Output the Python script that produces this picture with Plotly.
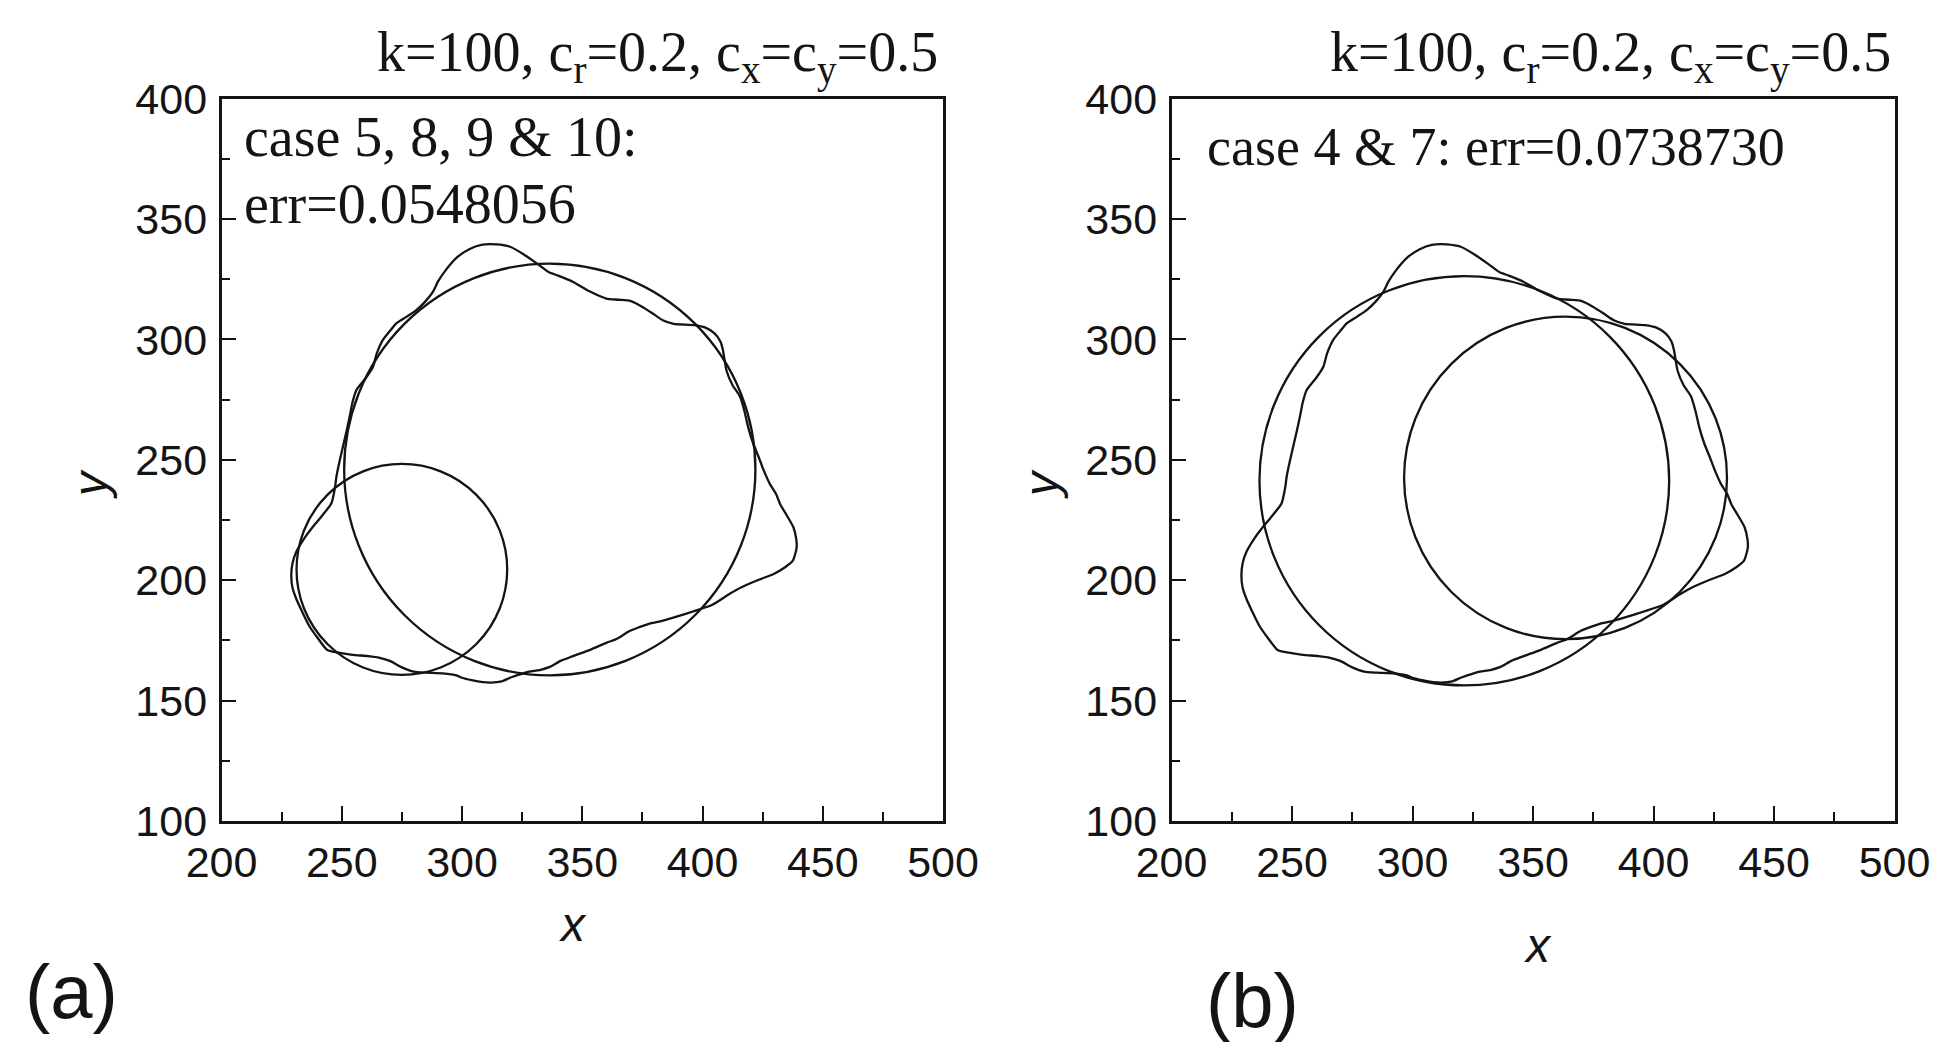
import plotly.graph_objects as go

# ---------------- data ----------------
# target (wavy) boundary, same in both panels
shape_x = [314.3, 320.0, 325.4, 331.5, 336.0, 340.0, 346.0, 353.0, 360.0, 365.0, 370.0, 375.0, 379.0,
           383.5, 388.0, 396.5, 401.0, 405.0, 407.5, 408.5, 410.0, 412.5, 415.5, 417.5, 419.0, 421.0,
           423.3, 425.5, 428.0, 430.5, 432.3, 435.0, 437.8, 439.0, 439.1, 437.5, 434.5, 429.4, 423.4,
           416.0, 411.5, 404.1, 396.0, 390.6, 382.0, 378.0, 373.7, 369.9, 364.0, 360.0, 353.0, 346.2,
           341.0, 336.5, 332.3, 328.0, 324.5, 320.0, 316.5, 312.0, 308.7, 304.0, 300.0, 297.7, 292.0,
           285.0, 280.0, 275.0, 270.0, 265.8, 261.0, 254.5, 248.0, 244.0, 240.0, 236.5, 233.5, 231.2,
           229.5, 229.0, 229.5, 231.2, 234.5, 238.1, 242.0, 245.7, 247.1, 247.8, 249.0, 250.5, 252.0,
           253.3, 254.5, 256.1, 260.0, 263.0, 264.5, 267.1, 270.0, 272.7, 277.0, 281.0, 284.5, 287.9,
           290.0, 293.0, 297.8, 303.0, 308.0, 314.3]
shape_y = [339.5, 338.5, 335.5, 331.3, 328.0, 326.5, 324.0, 320.0, 317.0, 316.5, 316.0, 313.5, 311.0,
           308.0, 306.5, 306.0, 305.0, 302.5, 299.0, 295.5, 287.0, 281.0, 276.5, 270.0, 263.5, 257.0,
           251.3, 245.5, 240.0, 236.0, 231.6, 227.0, 222.0, 217.0, 213.3, 208.0, 205.5, 202.5, 200.2,
           197.0, 194.5, 189.8, 187.0, 185.3, 182.8, 182.0, 180.5, 179.0, 175.5, 174.0, 171.0, 168.5,
           166.5, 164.0, 162.7, 162.0, 161.0, 159.5, 158.0, 157.5, 157.7, 158.5, 159.5, 160.5, 161.3,
           161.6, 162.0, 163.8, 166.5, 167.8, 168.5, 169.0, 170.0, 171.0, 176.0, 181.0, 187.0, 192.0,
           197.0, 202.0, 207.0, 212.0, 217.5, 222.3, 227.0, 232.0, 238.0, 243.1, 249.0, 255.5, 262.0,
           268.0, 274.0, 279.0, 284.0, 288.7, 294.0, 299.8, 303.5, 306.7, 309.5, 312.2, 315.5, 319.8,
           324.0, 328.5, 334.0, 337.5, 339.3, 339.5]

# fitted circles: centre x, centre y, radius
circ_a_cx = [336.5, 275.0]
circ_a_cy = [246.0, 204.5]
circ_a_r = [85.5, 43.8]
circ_b_cx = [321.5, 363.5]
circ_b_cy = [241.3, 242.5]
circ_b_r = [85.0, 67.0]

x_range = [200, 500]
y_range = [100, 400]
x_ticks = [200, 250, 300, 350, 400, 450, 500]
y_ticks = [100, 150, 200, 250, 300, 350, 400]

title_text = "k=100, c<sub>r</sub>=0.2, c<sub>x</sub>=c<sub>y</sub>=0.5"
case_a_lines = ["case 5, 8, 9 &amp; 10:", "err=0.0548056"]
case_b_text = "case 4 &amp; 7: err=0.0738730"

# ---------------- figure ----------------
W, H = 1948, 1042
OFF = 8  # the page body margin shifts the figure by this many pixels
INK = "#141414"
SERIF = "Liberation Serif, Times New Roman, serif"
SANS = "Liberation Sans, Arial, sans-serif"


def px(x):
    return (x - OFF) / W


def py(y):
    return 1 - (y - OFF) / H


fig = go.Figure()

for xa, ya in (("x", "y"), ("x2", "y2")):
    fig.add_trace(go.Scatter(x=shape_x, y=shape_y, mode="lines", xaxis=xa, yaxis=ya,
                             line=dict(color=INK, width=2.3, shape="spline", smoothing=0.6),
                             showlegend=False, hoverinfo="skip"))

shapes = []
for cxs, cys, rs, xr, yr in ((circ_a_cx, circ_a_cy, circ_a_r, "x", "y"),
                             (circ_b_cx, circ_b_cy, circ_b_r, "x2", "y2")):
    for cx, cy, r in zip(cxs, cys, rs):
        shapes.append(dict(type="circle", xref=xr, yref=yr, x0=cx - r, x1=cx + r,
                           y0=cy - r, y1=cy + r, line=dict(color=INK, width=2.3)))

axis_common = dict(
    automargin=False,
    showline=True, linecolor=INK, linewidth=2.6, mirror=True,
    showgrid=False, zeroline=False,
    ticks="inside", ticklen=15, tickwidth=2, tickcolor=INK,
    tickfont=dict(family=SANS, size=43, color=INK),
    minor=dict(ticks="inside", ticklen=9, tickwidth=2, tickcolor=INK, dtick=25, showgrid=False),
)

ydom = [py(821), py(98.7)]
fig.update_layout(
    width=W, height=H, autosize=False,
    margin=dict(l=0, r=0, t=0, b=0, autoexpand=False),
    paper_bgcolor="white", plot_bgcolor="white",
    shapes=shapes,
    xaxis=dict(domain=[px(221.5), px(943)], range=x_range, tickvals=x_ticks, anchor="y",
               ticklabelstandoff=2, **axis_common),
    yaxis=dict(domain=ydom, range=y_range, tickvals=y_ticks, anchor="x",
               ticklabelstandoff=3, **axis_common),
    xaxis2=dict(domain=[px(1171.5), px(1894.5)], range=x_range, tickvals=x_ticks, anchor="y2",
                ticklabelstandoff=2, **axis_common),
    yaxis2=dict(domain=ydom, range=y_range, tickvals=y_ticks, anchor="x2",
                ticklabelstandoff=3, **axis_common),
)

ann = []
serif_font = dict(family=SERIF, size=56, color=INK)
serif_font_b = dict(family=SERIF, size=54, color=INK)
# titles above the panels
ann.append(dict(text=title_text, x=px(940), y=py(94), xanchor="right", yanchor="bottom", font=serif_font))
ann.append(dict(text=title_text, x=px(1893), y=py(94), xanchor="right", yanchor="bottom", font=serif_font))
# in-plot labels
ann.append(dict(text=case_a_lines[0], x=px(242), y=py(137), xanchor="left", yanchor="middle", font=serif_font))
ann.append(dict(text=case_a_lines[1], x=px(242), y=py(204), xanchor="left", yanchor="middle", font=serif_font))
ann.append(dict(text=case_b_text, x=px(1205), y=py(147), xanchor="left", yanchor="middle", font=serif_font_b))
# axis titles
it_font = dict(family=SANS, size=48, color=INK, style="italic")
ann.append(dict(text="x", x=px(573), y=py(924), xanchor="center", yanchor="middle", font=it_font))
ann.append(dict(text="x", x=px(1538), y=py(945), xanchor="center", yanchor="middle", font=it_font))
ann.append(dict(text="y", x=px(90), y=py(484), xanchor="center", yanchor="middle", textangle=-90, font=it_font))
ann.append(dict(text="y", x=px(1041), y=py(484), xanchor="center", yanchor="middle", textangle=-90, font=it_font))
# panel letters
pl_font = dict(family=SANS, size=76, color=INK)
ann.append(dict(text="(a)", x=px(71.5), y=py(991), xanchor="center", yanchor="middle", font=pl_font))
ann.append(dict(text="(b)", x=px(1252), y=py(1000), xanchor="center", yanchor="middle", font=pl_font))

for a in ann:
    a.update(xref="paper", yref="paper", showarrow=False)
fig.update_layout(annotations=ann)

fig.write_html("out.html")
